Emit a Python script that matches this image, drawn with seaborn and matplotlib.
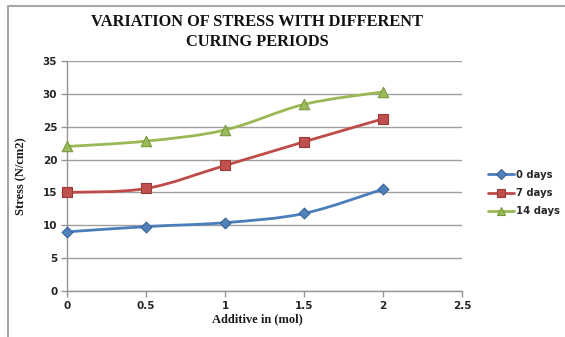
import numpy as np
import pandas as pd
import seaborn as sns
import matplotlib
matplotlib.use("Agg")
import matplotlib.pyplot as plt
from matplotlib.path import Path
from matplotlib.patches import PathPatch
from matplotlib.lines import Line2D

# Data
additive = [0, 0.5, 1, 1.5, 2]
stress_0_days = [9.0, 9.8, 10.4, 11.8, 15.5]
stress_7_days = [15.0, 15.6, 19.1, 22.7, 26.2]
stress_14_days = [22.0, 22.8, 24.5, 28.4, 30.3]
series_names = ["0 days", "7 days", "14 days"]

df = pd.DataFrame({
    "Additive": additive * 3,
    "Stress": stress_0_days + stress_7_days + stress_14_days,
    "Curing": [n for n in series_names for _ in additive],
})

line_colors = {"0 days": "#4A7EBB", "7 days": "#BE4B48", "14 days": "#98B954"}
fill_colors = {"0 days": "#4F81BD", "7 days": "#C0504D", "14 days": "#9BBB59"}
edge_colors = {"0 days": "#3B6496", "7 days": "#9A3B38", "14 days": "#7A9A42"}
marker_map = {"0 days": "D", "7 days": "s", "14 days": "^"}
marker_size = {"0 days": 5.5, "7 days": 7.5, "14 days": 7.5}

sns.set_theme(style="white")
plt.rcParams["font.family"] = ["DejaVu Sans"]

fig = plt.figure(figsize=(5.65, 3.37), dpi=100)
fig.patch.set_facecolor("white")

# outer chart frame (top and left edges)
fig.add_artist(Line2D([8 / 565, 8 / 565], [0, 1 - 6 / 337], color="#A6A6A6", lw=1.5,
                      transform=fig.transFigure))
fig.add_artist(Line2D([8 / 565, 1], [1 - 6 / 337, 1 - 6 / 337], color="#A6A6A6", lw=1.5,
                      transform=fig.transFigure))

ax = fig.add_axes([67 / 565, 46 / 337, 395 / 565, 230 / 337])


def smooth_path(xs, ys):
    """Cubic Bezier path through the points (Excel-style smoothed line)."""
    pts = np.column_stack([xs, ys]).astype(float)
    n = len(pts)
    verts = [pts[0]]
    codes = [Path.MOVETO]
    for i in range(n - 1):
        p0 = pts[i - 1] if i > 0 else pts[i]
        p1 = pts[i]
        p2 = pts[i + 1]
        p3 = pts[i + 2] if i + 2 < n else pts[i + 1]
        c1 = p1 + (p2 - p0) / 6.0
        c2 = p2 - (p3 - p1) / 6.0
        verts += [c1, c2, p2]
        codes += [Path.CURVE4] * 3
    return Path(verts, codes)


for name in series_names:
    sub = df[df["Curing"] == name]
    ax.add_patch(PathPatch(smooth_path(sub["Additive"].values, sub["Stress"].values),
                           facecolor="none", edgecolor=line_colors[name], lw=2.0,
                           zorder=3, clip_on=False))
    sns.scatterplot(data=sub, x="Additive", y="Stress", marker=marker_map[name],
                    s=marker_size[name] ** 2, color=fill_colors[name],
                    edgecolor=edge_colors[name], linewidth=0.8, zorder=4,
                    clip_on=False, ax=ax, legend=False)

ax.set_xlim(0, 2.5)
ax.set_ylim(0, 35)
ax.set_xticks([0, 0.5, 1, 1.5, 2, 2.5])
ax.set_xticklabels(["0", "0.5", "1", "1.5", "2", "2.5"])
ax.set_yticks(range(0, 36, 5))
ax.grid(axis="y", color="#A0A0A0", lw=1.0)
ax.set_axisbelow(True)
for side in ["top", "right"]:
    ax.spines[side].set_visible(False)
for side in ["left", "bottom"]:
    ax.spines[side].set_color("#969696")
    ax.spines[side].set_linewidth(1.0)
ax.tick_params(axis="both", which="major", length=4, width=1.0, color="#969696",
               labelsize=7.5, labelcolor="#262626", direction="out",
               bottom=True, left=True, pad=3)
for lab in ax.get_xticklabels() + ax.get_yticklabels():
    lab.set_fontweight("bold")

ax.set_xlabel("Additive in (mol)", family="Liberation Serif", fontweight="bold",
              fontsize=9, color="#1a1a1a", labelpad=2)
ax.xaxis.set_label_coords((257 - 67) / 395, -0.095)
ax.set_ylabel("Stress (N/cm2)", family="Liberation Serif", fontweight="bold",
              fontsize=9, color="#1a1a1a", labelpad=11)

fig.text(257 / 565, 1 - 32 / 337, "VARIATION OF STRESS WITH DIFFERENT\nCURING PERIODS",
         ha="center", va="center", family="Liberation Serif", fontweight="bold",
         fontsize=11.8, linespacing=1.25, color="#111111")

handles = [Line2D([0], [0], color=line_colors[n], lw=2, marker=marker_map[n],
                  markersize=marker_size[n] * 0.85, markerfacecolor=fill_colors[n],
                  markeredgecolor=edge_colors[n], markeredgewidth=0.8)
           for n in series_names]
leg = fig.legend(handles, series_names, loc="center left",
                 bbox_to_anchor=(484 / 565, 1 - 193 / 337), frameon=False,
                 fontsize=7.2, handlelength=2.6, handletextpad=0.25,
                 labelspacing=0.85, borderaxespad=0)
for t in leg.get_texts():
    t.set_fontweight("bold")
    t.set_color("#262626")

fig.savefig("out.png", dpi=100, facecolor="white")
